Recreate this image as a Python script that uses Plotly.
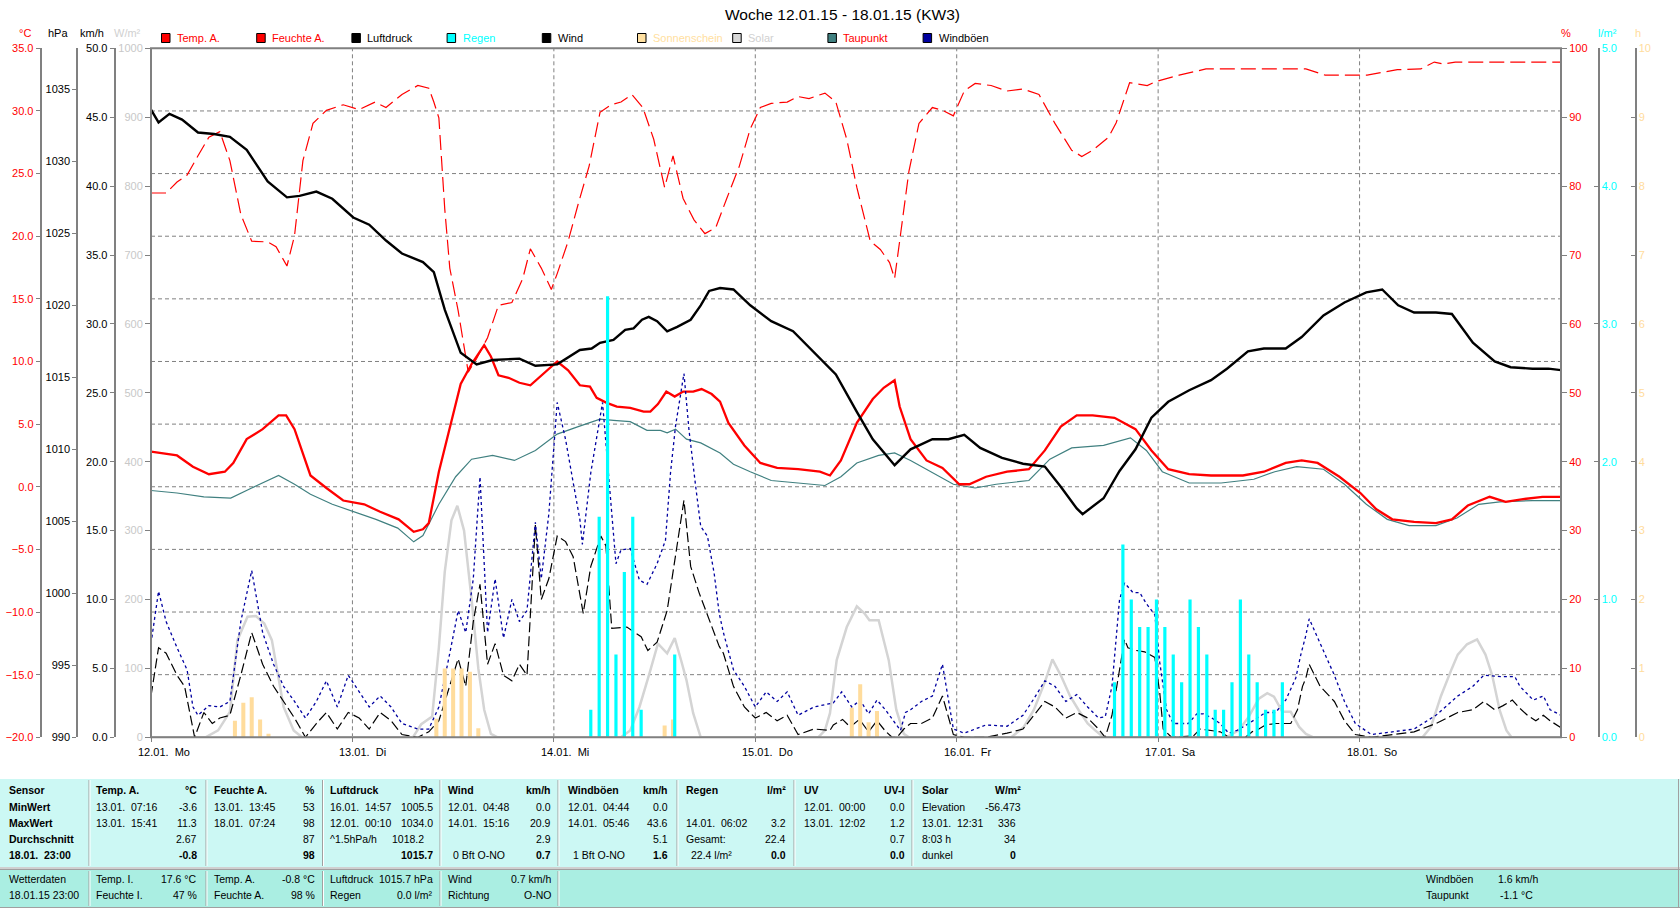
import plotly.graph_objects as go

# ---------------------------------------------------------------- data
# time axis: hours since 12.01.15 00:00 (0 .. 168)
day_ticks = [0, 24, 48, 72, 96, 120, 144]
day_labels = ["12.01.\u00a0\u00a0Mo", "13.01.\u00a0\u00a0Di", "14.01.\u00a0\u00a0Mi", "15.01.\u00a0\u00a0Do",
              "16.01.\u00a0\u00a0Fr", "17.01.\u00a0\u00a0Sa", "18.01.\u00a0\u00a0So"]

temp_t = [0.0, 3.1, 5.0, 6.9, 8.8, 9.8, 11.4, 13.3, 15.2, 16.1, 17.1, 19.0, 20.9, 22.9, 25.4, 27.3, 29.5, 31.3,
          32.4, 33.1, 34.3, 35.6, 36.9, 38.2, 39.7, 40.5, 41.4, 42.6, 43.9, 45.2, 46.5, 48.4, 49.7, 51.1, 52.3,
          53.1, 54.3, 55.5, 57.1, 58.7, 59.5, 60.4, 61.4, 62.4, 63.4, 64.6, 65.6, 66.8, 67.8, 68.8, 70.7, 72.6,
          74.6, 77.1, 79.7, 80.9, 82.2, 84.1, 86.0, 87.3, 88.6, 89.2, 90.5, 92.4, 94.3, 96.3, 97.5, 99.5, 102.0,
          104.6, 106.5, 108.4, 110.3, 112.2, 114.8, 117.3, 119.2, 121.2, 123.7, 126.3, 130.1, 132.6, 135.2,
          137.1, 139.0, 141.6, 144.1, 146.0, 147.9, 150.5, 153.1, 155.0, 156.9, 159.5, 161.4, 163.3, 165.8, 168.0]
temp_v = [2.8, 2.5, 1.6, 1.0, 1.2, 1.9, 3.8, 4.6, 5.7, 5.7, 4.6, 0.9, -0.1, -1.1, -1.4, -2.0, -2.6, -3.6,
          -3.4, -2.9, 1.2, 4.6, 8.2, 9.8, 11.3, 10.4, 8.9, 8.7, 8.3, 8.1, 8.9, 10.0, 9.3, 8.1, 8.0,
          7.1, 6.7, 6.4, 6.3, 6.0, 6.0, 6.6, 7.6, 7.2, 7.6, 7.6, 7.8, 7.4, 6.8, 5.1, 3.3, 1.9,
          1.5, 1.4, 1.2, 0.9, 2.1, 5.1, 7.0, 7.9, 8.5, 6.4, 3.8, 2.1, 1.5, 0.2, 0.2, 0.8, 1.2,
          1.4, 2.9, 4.8, 5.7, 5.7, 5.5, 4.6, 2.9, 1.4, 1.0, 0.9, 0.9, 1.2, 1.9,
          2.1, 1.9, 0.8, -0.5, -1.8, -2.6, -2.8, -2.9, -2.6, -1.5, -0.8, -1.2, -1.0, -0.8, -0.8]

dew_t = [0.0, 3.1, 6.3, 9.5, 12.0, 15.2, 17.1, 19.0, 21.6, 24.3, 26.8, 29.4, 31.3, 32.4, 34.3, 36.3, 38.2, 40.7,
         43.3, 45.8, 48.4, 50.9, 53.5, 55.1, 57.1, 59.1, 60.7, 61.5, 62.5, 63.8, 65.5, 67.8, 69.4, 71.4, 73.9,
         77.1, 80.3, 82.2, 84.1, 86.7, 88.6, 90.5, 93.0, 95.6, 98.2, 100.7, 104.6, 107.1, 109.7, 113.5, 116.7,
         118.6, 120.5, 123.7, 127.5, 131.4, 133.9, 136.5, 139.7, 142.2, 144.8, 147.3, 149.9, 153.1, 155.6,
         158.2, 160.7, 164.6, 168.0]
dew_v = [-0.3, -0.5, -0.8, -0.9, -0.1, 0.9, 0.2, -0.6, -1.4, -2.0, -2.6, -3.3, -4.4, -3.9, -1.4, 0.8, 2.2, 2.5,
         2.1, 2.9, 4.2, 4.8, 5.4, 5.3, 5.2, 4.5, 4.5, 4.3, 4.6, 3.8, 3.5, 2.7, 1.8, 1.2, 0.5,
         0.3, 0.1, 0.8, 1.9, 2.5, 2.7, 2.1, 1.2, 0.2, -0.1, 0.2, 0.5, 2.2, 3.1, 3.3, 3.9,
         2.9, 1.2, 0.3, 0.3, 0.6, 1.2, 1.6, 1.4, 0.2, -1.4, -2.6, -3.1, -3.1, -2.5,
         -1.4, -1.2, -1.1, -1.1]

pres_t = [0.0, 0.9, 2.2, 3.7, 5.6, 7.5, 9.4, 11.4, 13.9, 16.2, 17.7, 19.7, 21.6, 24.1, 26.0, 28.0, 29.9, 32.4,
          33.7, 35.0, 36.9, 38.8, 40.7, 43.9, 45.8, 48.4, 51.1, 52.5, 53.5, 55.1, 56.5, 57.5, 58.5, 59.3, 60.3,
          61.5, 62.7, 64.3, 65.5, 66.5, 67.8, 69.4, 71.4, 73.9, 76.5, 79.0, 81.6, 84.1, 86.0, 88.6, 90.5, 93.1,
          95.0, 96.9, 98.8, 101.4, 103.9, 106.5, 108.4, 110.3, 111.0, 113.5, 115.4, 117.3, 119.2, 121.2, 123.7,
          126.3, 128.2, 130.7, 132.6, 135.2, 137.1, 139.7, 142.2, 144.8, 146.7, 148.6, 150.5, 153.1, 155.0,
          157.5, 160.1, 162.0, 164.6, 166.5, 168.0]
pres_v = [1033.6, 1032.7, 1033.3, 1032.9, 1032.0, 1031.9, 1031.7, 1030.8, 1028.6, 1027.5, 1027.6, 1027.9,
          1027.4, 1026.1, 1025.6, 1024.5, 1023.6, 1023.0, 1022.3, 1019.7, 1016.7, 1015.9, 1016.2, 1016.3,
          1015.8, 1015.9, 1016.9, 1017.0, 1017.4, 1017.6, 1018.3, 1018.4, 1019.0, 1019.2, 1018.9, 1018.2,
          1018.5, 1019.0, 1020.0, 1021.0, 1021.2, 1021.1, 1020.0, 1018.9, 1018.2, 1016.7, 1015.2, 1012.6,
          1010.7, 1008.9, 1010.0, 1010.7, 1010.7, 1011.0, 1010.1, 1009.4, 1009.0, 1008.8, 1007.4, 1005.9,
          1005.5, 1006.6, 1008.5, 1010.0, 1012.2, 1013.3, 1014.1, 1014.8, 1015.6, 1016.8, 1017.0, 1017.0,
          1017.8, 1019.3, 1020.2, 1020.9, 1021.1, 1020.0, 1019.5, 1019.5, 1019.4, 1017.4, 1016.1, 1015.7,
          1015.6, 1015.6, 1015.5]

hum_t = [0.0, 1.8, 3.1, 4.3, 5.6, 6.9, 8.2, 9.4, 10.7, 12.0, 13.9, 14.9, 16.2, 17.1, 18.1, 19.3, 20.9, 22.9,
         24.8, 26.7, 28.0, 29.9, 31.8, 33.1, 33.7, 34.3, 35.0, 35.6, 36.6, 37.8, 38.8, 40.1, 41.4, 43.0, 44.3,
         45.2, 46.5, 47.7, 48.4, 49.7, 50.9, 52.2, 53.5, 54.8, 56.0, 57.3, 58.6, 59.9, 61.2, 62.2, 63.4, 64.7,
         66.0, 67.3, 68.6, 70.1, 71.4, 72.6, 73.9, 75.8, 77.1, 78.4, 80.3, 81.6, 82.9, 84.1, 85.7, 86.9, 88.0,
         88.6, 89.2, 90.3, 91.5, 93.1, 94.3, 95.6, 96.9, 98.2, 100.1, 102.0, 103.9, 105.8, 107.7, 109.7, 110.9,
         112.2, 114.1, 115.0, 116.6, 118.7, 119.8, 122.5, 125.7, 137.6, 139.9, 144.9, 148.5, 151.3, 152.9,
         154.0, 155.4, 168.0]
hum_v = [79, 79, 80.6, 81.6, 84.4, 87.1, 87.9, 83.7, 75.9, 72.0, 71.9, 71.2, 68.4, 72.8, 83.7, 89.1, 91.0, 91.8,
         91.1, 92.2, 91.4, 93.3, 94.6, 94.2, 92.2, 89.9, 76.7, 68.1, 61.9, 53.0, 55.0, 58.0, 62.7, 63.1, 66.6,
         70.9, 68.1, 65.0, 67.3, 72.0, 77.4, 82.9, 90.7, 91.8, 92.2, 93.3, 91.4, 86.8, 79.8, 84.4, 78.2, 75.1,
         73.1, 74.0, 78.2, 82.9, 88.3, 91.4, 92.0, 92.2, 93.0, 92.7, 93.5, 92.2, 86.8, 79.8, 72.0, 70.8, 68.9,
         66.6, 72.0, 82.1, 89.1, 91.4, 91.0, 90.2, 93.8, 94.9, 94.6, 93.8, 94.1, 93.3, 89.1, 85.2, 84.3,
         85.2, 87.1, 89.2, 95.0, 94.6, 95.2, 96.1, 97.0, 97.0, 96.1, 96.1, 96.9, 97.0, 98.0,
         97.7, 98.0, 98.0]

wind_t = [0.0, 0.9, 1.8, 3.1, 4.0, 4.7, 5.2, 6.3, 7.3, 8.2, 9.4, 10.7, 12.0, 13.3, 14.6, 15.8, 17.1, 18.4, 19.7,
          20.9, 22.2, 23.5, 24.8, 26.0, 27.3, 28.6, 29.9, 31.8, 33.1, 34.3, 35.6, 36.6, 37.5, 38.4, 39.2, 40.1,
          41.0, 42.0, 43.0, 43.9, 44.8, 45.8, 46.5, 47.4, 48.4, 49.4, 50.3, 51.1, 51.5, 52.4, 53.6, 54.2, 54.9,
          56.7, 58.4, 59.2, 60.3, 61.5, 62.7, 63.5, 64.3, 65.3, 66.1, 67.1, 67.7, 68.2, 69.4, 70.7, 72.0, 73.3,
          74.6, 75.8, 77.1, 79.0, 80.9, 81.3, 82.4, 83.3, 84.4, 85.5, 86.5, 87.5, 88.3, 88.9, 89.7, 90.5, 91.8,
          93.1, 94.3, 95.6, 96.9, 99.5, 102.0, 103.9, 105.2, 106.5, 107.7, 109.0, 110.3, 111.6, 112.9, 113.7,
          114.5, 115.3, 116.0, 116.4, 117.4, 118.4, 119.6, 120.2, 120.6, 121.6, 124.2, 125.0, 126.4, 127.4,
          128.2, 128.8, 130.4, 131.2, 132.0, 132.8, 134.0, 135.8, 136.6, 137.2, 137.6, 138.0, 139.3, 141.0,
          142.2, 143.5, 145.4, 148.0, 150.5, 153.1, 155.7, 157.5, 158.8, 160.1, 161.1, 162.2, 163.1, 164.0,
          165.0, 165.9, 166.7, 168.0]
wind_v = [3.0, 6.5, 6.1, 4.5, 3.7, 1.4, 0.0, 1.8, 1.0, 1.4, 1.6, 4.5, 7.6, 5.3, 3.7, 2.6, 1.4, 0.0, 1.0,
          1.8, 0.6, 1.8, 1.4, 0.6, 1.8, 1.2, 0.2, 0.0, 0.4, 1.2, 3.7, 5.7, 3.7, 8.4, 11.1, 5.3,
          6.8, 4.5, 4.1, 5.3, 4.5, 15.4, 10.0, 11.5, 14.6, 14.2, 13.1, 10.2, 9.0, 12.4, 14.6, 13.9, 7.9,
          8.0, 7.3, 6.3, 6.9, 9.2, 14.1, 17.2, 12.4, 10.5, 9.2, 7.5, 6.6, 6.1, 3.7, 2.2, 1.4, 1.8,
          1.2, 1.6, 0.2, 0.6, 0.5, 0.9, 1.3, 0.75, 1.3, 0.4, 1.2, 0.45, 0.0, 0.0, 0.6, 1.0, 1.0,
          1.4, 3.0, 0.2, 0.0, 0.0, 0.3, 0.6, 1.6, 2.6, 2.2, 1.4, 1.8, 1.4, 0.6, 0.0,
          1.6, 4.6, 7.1, 6.5, 6.3, 6.2, 5.8, 3.2, 0.6, 0.0, 0.1, 0.6, 0.5, 0.4,
          0.1, 0.0, 0.0, 0.4, 0.6, 0.9, 1.0, 1.0, 2.0, 3.7, 4.3, 5.3, 3.7, 2.6,
          1.2, 0.2, 0.0, 0.2, 0.4, 1.0, 1.8, 2.0, 2.6, 2.0, 2.3, 2.7, 2.1, 1.6,
          1.2, 1.6, 1.2, 0.7]

gust_t = [0.0, 0.9, 1.8, 3.1, 4.3, 5.0, 5.6, 6.9, 8.2, 9.4, 10.7, 12.0, 13.3, 14.6, 15.8, 17.1, 18.4, 19.7,
          20.9, 22.2, 23.5, 24.8, 26.0, 27.3, 28.6, 29.9, 31.8, 33.1, 34.3, 35.6, 36.6, 37.5, 38.4, 39.2, 40.1,
          41.0, 42.0, 43.0, 43.9, 44.8, 45.8, 46.5, 47.4, 48.4, 49.4, 50.3, 51.1, 51.4, 52.4, 53.8, 55.4, 56.0,
          57.1, 58.2, 59.1, 60.3, 61.3, 61.9, 62.5, 63.5, 64.1, 64.9, 65.5, 66.3, 67.1, 67.7, 68.2, 69.4, 70.7,
          72.0, 73.3, 74.6, 75.8, 77.1, 79.0, 81.3, 82.3, 83.5, 84.5, 85.5, 86.5, 87.5, 88.5, 89.3, 89.9, 90.5,
          91.8, 93.1, 94.3, 95.6, 96.9, 99.5, 102.0, 103.9, 105.2, 106.5, 107.7, 109.0, 110.3, 111.6, 112.9,
          113.7, 114.5, 115.4, 116.0, 117.0, 117.8, 118.6, 119.6, 120.2, 121.0, 121.8, 123.6, 124.6, 125.4,
          126.4, 127.4, 128.4, 129.4, 130.8, 132.8, 134.0, 135.2, 136.4, 137.0, 137.6, 138.0, 139.3, 141.0,
          142.2, 143.5, 145.4, 148.0, 150.5, 153.1, 155.7, 157.5, 158.8, 160.9, 162.5, 163.1, 164.7, 165.9,
          166.7, 168.0]
gust_v = [6.8, 10.6, 8.4, 6.5, 4.9, 2.2, 1.6, 2.3, 2.2, 2.6, 8.4, 12.1, 7.6, 5.3, 3.7, 2.6, 1.4, 2.6,
          4.1, 2.2, 4.5, 3.3, 2.2, 3.0, 2.2, 1.0, 0.6, 0.6, 2.2, 6.1, 9.2, 7.6, 11.5, 18.9, 7.6,
          11.5, 7.2, 10.0, 8.4, 9.2, 15.6, 11.5, 16.2, 24.3, 21.6, 18.5, 15.8, 14.0, 19.2, 24.3, 12.6, 13.6,
          13.7, 11.4, 11.1, 12.6, 14.3, 19.2, 22.6, 26.4, 22.3, 18.2, 15.3, 14.6, 11.9, 9.0, 7.6, 4.9, 3.7,
          2.2, 3.3, 2.6, 3.3, 1.6, 2.2, 2.5, 3.3, 2.2, 2.7, 1.7, 2.7, 2.0, 1.2, 0.5, 1.8, 2.0,
          2.6, 3.0, 5.3, 0.6, 0.3, 0.9, 0.8, 1.6, 2.8, 4.1, 3.7, 2.6, 3.1, 2.2, 1.4,
          1.5, 3.7, 10.0, 11.2, 10.5, 10.5, 9.7, 8.9, 5.4, 2.0, 1.0, 1.0, 1.7, 1.7,
          1.4, 1.0, 0.3, 0.5, 1.0, 1.8, 1.8, 2.7, 4.3, 6.0, 7.4, 8.6, 6.8, 4.5,
          2.6, 1.0, 0.2, 0.4, 0.6, 1.6, 3.0, 3.7, 4.5, 4.4, 4.4, 3.7, 2.7, 3.0,
          2.0, 1.6]

solar_t = [0.0, 6.5, 8.0, 9.4, 10.3, 11.5, 12.5, 13.5, 14.4, 15.8, 17.0, 18.0,
           31.2, 32.2, 33.5, 34.3, 35.0, 35.8, 36.5, 37.3, 38.2, 39.0, 39.7, 40.5, 41.3,
           56.0, 57.1, 58.2, 59.4, 60.4, 61.5, 62.4, 63.2, 63.8, 64.6, 65.5,
           79.5, 80.3, 80.9, 81.7, 82.9, 84.1, 85.0, 85.6, 86.7, 87.9, 88.8, 89.7, 90.3,
           102.5, 104.0, 105.2, 106.5, 107.4, 108.4, 109.5, 110.5, 111.6, 112.5, 113.5,
           128.1, 129.6, 130.8, 132.0, 133.0, 133.8, 134.8, 135.8, 136.8, 137.6, 138.5,
           151.5, 152.5, 153.7, 155.0, 155.7, 156.8, 158.0, 159.0, 159.8, 160.7, 161.5, 162.1, 168.0]
solar_v = [0, 0, 10, 37, 141, 175, 176, 165, 141, 44, 10, 0,
           0, 19, 30, 130, 240, 315, 336, 300, 200, 100, 40, 5, 0,
           0, 10, 44, 93, 136, 122, 144, 110, 83, 35, 0,
           0, 10, 35, 112, 160, 190, 180, 170, 170, 112, 40, 5, 0,
           0, 15, 40, 80, 113, 90, 60, 40, 20, 10, 0,
           0, 10, 30, 56, 64, 59, 37, 37, 15, 5, 0,
           0, 15, 60, 100, 120, 135, 142, 120, 90, 39, 10, 0, 0]

rain_t = [52.4, 53.4, 54.4, 55.4, 56.4, 57.4, 58.4, 62.4,
          114.8, 115.8, 116.8, 117.8, 118.8, 119.8, 120.8, 121.8, 122.8, 123.8, 124.8,
          125.8, 126.8, 127.8, 128.8, 129.8, 130.8, 131.8, 132.8, 133.8, 134.8]
rain_v = [0.2, 1.6, 3.2, 0.6, 1.2, 1.6, 0.2, 0.6,
          0.4, 1.4, 1.0, 0.8, 0.8, 1.0, 0.8, 0.6, 0.4, 1.0, 0.8,
          0.6, 0.2, 0.2, 0.4, 1.0, 0.6, 0.4, 0.2, 0.2, 0.4]

sun_t = [10, 11, 12, 13, 14, 34, 35, 36, 37, 38, 39, 61.2, 62.2, 83.5, 84.5, 85.5, 86.5]
sun_v = [0.24, 0.5, 0.58, 0.26, 0.05, 0.27, 1.0, 1.0, 1.0, 0.95, 0.13, 0.17, 0.26, 0.43, 0.77, 0.22, 0.38]

# axis tick values
c_ticks = [-20, -15, -10, -5, 0, 5, 10, 15, 20, 25, 30, 35]
hpa_ticks = [990, 995, 1000, 1005, 1010, 1015, 1020, 1025, 1030, 1035]
kmh_ticks = [0, 5, 10, 15, 20, 25, 30, 35, 40, 45, 50]
wm2_ticks = [0, 100, 200, 300, 400, 500, 600, 700, 800, 900, 1000]
pct_ticks = [0, 10, 20, 30, 40, 50, 60, 70, 80, 90, 100]
lm2_ticks = [0, 1, 2, 3, 4, 5]
h_ticks = [0, 1, 2, 3, 4, 5, 6, 7, 8, 9, 10]

legend_names = ["Temp. A.", "Feuchte A.", "Luftdruck", "Regen", "Wind", "Sonnenschein", "Solar", "Taupunkt", "Windböen"]
legend_box = ["#FF0000", "#FF0000", "#000000", "#00FFFF", "#000000", "#FFE0A0", "#D8D8D8", "#408080", "#0000A0"]
legend_txt = ["#FF0000", "#FF0000", "#000000", "#00FFFF", "#000000", "#FFE0A0", "#D0D0D0", "#FF0000", "#000000"]

# statistics table
tab_head_l = ["Temp. A.", "Feuchte A.", "Luftdruck", "Wind", "Windböen", "Regen", "UV", "Solar"]
tab_head_r = ["°C", "%", "hPa", "km/h", "km/h", "l/m²", "UV-I", "W/m²"]
row_names = ["MinWert", "MaxWert", "Durchschnitt", "18.01.\u00a0\u00a023:00"]
min_l = ["13.01.\u00a0\u00a007:16", "13.01.\u00a0\u00a013:45", "16.01.\u00a0\u00a014:57", "12.01.\u00a0\u00a004:48",
         "12.01.\u00a0\u00a004:44", "", "12.01.\u00a0\u00a000:00", "Elevation"]
min_r = ["-3.6", "53", "1005.5", "0.0", "0.0", "", "0.0", "-56.473"]
max_l = ["13.01.\u00a0\u00a015:41", "18.01.\u00a0\u00a007:24", "12.01.\u00a0\u00a000:10", "14.01.\u00a0\u00a015:16",
         "14.01.\u00a0\u00a005:46", "14.01.\u00a0\u00a006:02", "13.01.\u00a0\u00a012:02", "13.01.\u00a0\u00a012:31"]
max_r = ["11.3", "98", "1034.0", "20.9", "43.6", "3.2", "1.2", "336"]
avg_l = ["", "", "^1.5hPa/h", "", "", "Gesamt:", "", "8:03 h"]
avg_r = ["2.67", "87", "1018.2", "2.9", "5.1", "22.4", "0.7", "34"]
cur_l = ["", "", "", "0 Bft O-NO", "1 Bft O-NO", "22.4 l/m²", "", "dunkel"]
cur_r = ["-0.8", "98", "1015.7", "0.7", "1.6", "0.0", "0.0", "0"]

bot_l1 = ["Temp. I.", "Temp. A.", "Luftdruck", "Wind"]
bot_r1 = ["17.6 °C", "-0.8 °C", "1015.7 hPa", "0.7 km/h"]
bot_l2 = ["Feuchte I.", "Feuchte A.", "Regen", "Richtung"]
bot_r2 = ["47 %", "98 %", "0.0 l/m²", "O-NO"]

# ---------------------------------------------------------------- layout geometry (pixels)
W, H = 1680, 909
PL, PR, PT, PB = 151, 1561, 48.3, 737.3
FONT = "Liberation Sans, Arial, sans-serif"
TF = 10.5  # table font size


def fx(x):
    return x / W


def fy(y):
    return 1 - y / H


fig = go.Figure()

# traces (axis order defines drawing order)
fig.add_trace(go.Scatter(x=solar_t, y=solar_v, yaxis="y", mode="lines",
                         line=dict(color="#D4D4D4", width=2.5), name="Solar"))
fig.add_trace(go.Scatter(x=dew_t, y=dew_v, yaxis="y2", mode="lines",
                         line=dict(color="#408080", width=1.2), name="Taupunkt"))
fig.add_trace(go.Scatter(x=temp_t, y=temp_v, yaxis="y2", mode="lines",
                         line=dict(color="#FF0000", width=2.3), name="Temp. A."))
fig.add_trace(go.Scatter(x=hum_t, y=hum_v, yaxis="y3", mode="lines",
                         line=dict(color="#FF0000", width=1.2, dash="15px,6px"), name="Feuchte A."))
fig.add_trace(go.Scatter(x=pres_t, y=pres_v, yaxis="y4", mode="lines",
                         line=dict(color="#000000", width=2.4), name="Luftdruck"))
fig.add_trace(go.Scatter(x=wind_t, y=wind_v, yaxis="y5", mode="lines",
                         line=dict(color="#000000", width=1.2, dash="10px,4px"), name="Wind"))
fig.add_trace(go.Scatter(x=gust_t, y=gust_v, yaxis="y5", mode="lines",
                         line=dict(color="#0000A0", width=1.3, dash="3px,3px"), name="Windböen"))
fig.add_trace(go.Bar(x=sun_t, y=sun_v, yaxis="y6", width=0.48,
                     marker=dict(color="#FFDC9C", line=dict(width=0)), name="Sonnenschein"))
fig.add_trace(go.Bar(x=rain_t, y=rain_v, yaxis="y7", width=0.38,
                     marker=dict(color="#00FFFF", line=dict(width=0)), name="Regen"))

dom_y = [fy(PB), fy(PT)]


def yax(rng, tv, fmt, color, **kw):
    d = dict(domain=dom_y, range=rng, autorange=False, tickmode="array", tickvals=tv,
             tickformat=fmt, tickfont=dict(family=FONT, size=11, color=color),
             showgrid=False, zeroline=False, fixedrange=True, automargin=False,
             ticks="outside", ticklen=4, tickcolor="#808080", tickwidth=1)
    d.update(kw)
    return d


line_kw = dict(showline=True, linecolor="#808080", linewidth=2)

fig.update_layout(
    template="none",
    width=W, height=H, margin=dict(l=0, r=0, t=0, b=0, pad=0, autoexpand=False),
    paper_bgcolor="white", plot_bgcolor="white", showlegend=False, barmode="overlay",
    font=dict(family=FONT, size=11, color="black"),
    xaxis=dict(domain=[fx(PL), fx(PR)], range=[0, 168], autorange=False, showgrid=False, zeroline=False,
               showticklabels=False, ticks="outside", tickmode="array", tickvals=day_ticks, ticklen=4,
               tickcolor="#808080", showline=False, fixedrange=True, automargin=False),
    yaxis=yax([0, 1000], wm2_ticks, "d", "#C8C8C8", anchor="x", side="left", ticklen=5),
    yaxis2=yax([-20, 35], c_ticks, ".1f", "#FF0000", overlaying="y", anchor="free",
               position=fx(40.7), side="left", **line_kw),
    yaxis3=yax([0, 100], pct_ticks, "d", "#FF0000", overlaying="y", anchor="x", side="right", ticklen=5),
    yaxis4=yax([990, 1037.85], hpa_ticks, "d", "#000000", overlaying="y", anchor="free",
               position=fx(77.3), side="left", **line_kw),
    yaxis5=yax([0, 50], kmh_ticks, ".1f", "#000000", overlaying="y", anchor="free",
               position=fx(114.7), side="left", **line_kw),
    yaxis6=yax([0, 10], h_ticks, "d", "#FFDC9C", overlaying="y", anchor="free",
               position=fx(1635.5), side="right", ticks="inside", **line_kw),
    yaxis7=yax([0, 5], lm2_ticks, ".1f", "#00FFFF", overlaying="y", anchor="free",
               position=fx(1598.5), side="right", ticks="inside", **line_kw),
)

shapes = []
grid = dict(color="#808080", width=1, dash="4px,3px")
for c in c_ticks[1:-1]:
    shapes.append(dict(type="line", xref="paper", yref="y2", x0=fx(PL), x1=fx(PR), y0=c, y1=c,
                       line=grid, layer="below"))
for d in day_ticks[1:]:
    shapes.append(dict(type="line", xref="x", yref="paper", x0=d, x1=d, y0=fy(PB), y1=fy(PT),
                       line=grid, layer="below"))
# plot frame
shapes.append(dict(type="rect", xref="paper", yref="paper", x0=fx(PL), x1=fx(PR), y0=fy(PB), y1=fy(PT),
                   line=dict(color="#808080", width=2), layer="above"))

annotations = []


def txt(x, y, s, anchor="left", bold=False, color="#000000", size=11):
    annotations.append(dict(x=fx(x), y=fy(y), xref="paper", yref="paper", showarrow=False,
                            text=("<b>%s</b>" % s) if bold else s, xanchor=anchor, yanchor="middle",
                            font=dict(family=FONT, size=size, color=color), borderpad=0))


# title
txt(842, 15, "Woche 12.01.15 - 18.01.15 (KW3)", anchor="center", size=15.5)

# axis unit labels
txt(24.5, 32.5, "°C", anchor="center", color="#FF0000")
txt(57.5, 33, "hPa", anchor="center")
txt(91.5, 33, "km/h", anchor="center")
txt(127.5, 33, "W/m²", anchor="center", color="#D0D0D0")
txt(1566, 33, "%", anchor="center", color="#FF0000")
txt(1607, 33, "l/m²", anchor="center", color="#00FFFF")
txt(1638, 33, "h", anchor="center", color="#FFDC9C")

# legend
for i, name in enumerate(legend_names):
    x0 = 161.5 + i * 95.2
    shapes.append(dict(type="rect", xref="paper", yref="paper", x0=fx(x0), x1=fx(x0 + 8.5),
                       y0=fy(42.5), y1=fy(33.5), fillcolor=legend_box[i],
                       line=dict(color="#000000", width=1), layer="above"))
    txt(x0 + 14.5, 38, name, color=legend_txt[i])

# day labels
for d, lab in zip(day_ticks, day_labels):
    px_ = PL + d * (PR - PL) / 168.0
    txt(px_ - 14, 752, lab)

# ---------------- statistics table
TOP_BG, BOT_BG, SEP = "#CCF8F4", "#AAEEE2", "#A0A0A0"
shapes.append(dict(type="rect", xref="paper", yref="paper", x0=0, x1=1, y0=fy(867), y1=fy(779),
                   fillcolor=TOP_BG, line=dict(width=0), layer="below"))
shapes.append(dict(type="rect", xref="paper", yref="paper", x0=0, x1=1, y0=fy(907), y1=fy(870),
                   fillcolor=BOT_BG, line=dict(width=0), layer="below"))
for yy in (868, 869.5, 907.5):
    shapes.append(dict(type="line", xref="paper", yref="paper", x0=0, x1=1, y0=fy(yy), y1=fy(yy),
                       line=dict(color=SEP, width=1), layer="above"))
shapes.append(dict(type="line", xref="paper", yref="paper", x0=fx(1678.5), x1=fx(1678.5),
                   y0=fy(907), y1=fy(779), line=dict(color=SEP, width=1), layer="above"))
sep_top = [89, 206, 322.5, 440, 558, 677, 794, 912]
for i, sx in enumerate(sep_top):
    shapes.append(dict(type="line", xref="paper", yref="paper", x0=fx(sx), x1=fx(sx), y0=fy(866), y1=fy(780),
                       line=dict(color=SEP, width=1), layer="above"))
    shapes.append(dict(type="line", xref="paper", yref="paper", x0=fx(sx + 1), x1=fx(sx + 1), y0=fy(866),
                       y1=fy(780), line=dict(color="#FFFFFF", width=1), layer="above"))
    if i < 5:
        shapes.append(dict(type="line", xref="paper", yref="paper", x0=fx(sx), x1=fx(sx), y0=fy(906),
                           y1=fy(871), line=dict(color=SEP, width=1), layer="above"))
        shapes.append(dict(type="line", xref="paper", yref="paper", x0=fx(sx + 1), x1=fx(sx + 1),
                           y0=fy(906), y1=fy(871), line=dict(color="#FFFFFF", width=1), layer="above"))

col_l = [94.5, 212.5, 329, 446.5, 566.5, 684.5, 802.5, 920.5]
col_r = [198, 316, 434, 552, 668.5, 786.5, 906, 1022]
rows_y = [790, 806.5, 822.5, 839, 855]

txt(8, rows_y[0], "Sensor", bold=True, size=TF)
for k, rn in enumerate(row_names):
    txt(8, rows_y[k + 1], rn, bold=True, size=TF)
for i in range(8):
    txt(col_l[i], rows_y[0], tab_head_l[i], bold=True, size=TF)
    txt(col_r[i], rows_y[0], tab_head_r[i], anchor="right", bold=True, size=TF)
    rr = col_r[i] - 5 if i == 7 else col_r[i]
    if min_l[i]:
        txt(col_l[i], rows_y[1], min_l[i], size=TF)
    if min_r[i]:
        txt(col_r[i], rows_y[1], min_r[i], anchor="right", size=TF)
    txt(col_l[i], rows_y[2], max_l[i], size=TF)
    txt(rr, rows_y[2], max_r[i], anchor="right", size=TF)
    if avg_l[i]:
        txt(col_l[i], rows_y[3], avg_l[i], size=TF)
    txt(col_r[i] - 9 if i == 2 else rr, rows_y[3], avg_r[i], anchor="right", size=TF)
    if cur_l[i]:
        txt(col_l[i] + (0 if i == 7 else 5), rows_y[4], cur_l[i], size=TF)
    txt(rr, rows_y[4], cur_r[i], anchor="right", bold=True, size=TF)

bot_y = [879, 895]
txt(8, bot_y[0], "Wetterdaten", size=TF)
txt(8, bot_y[1], "18.01.15 23:00", size=TF)
for i in range(4):
    txt(col_l[i], bot_y[0], bot_l1[i], size=TF)
    txt(col_r[i], bot_y[0], bot_r1[i], anchor="right", size=TF)
    txt(col_l[i], bot_y[1], bot_l2[i], size=TF)
    txt(col_r[i], bot_y[1], bot_r2[i], anchor="right", size=TF)
txt(1425, bot_y[0], "Windböen", size=TF)
txt(1497, bot_y[0], "1.6 km/h", size=TF)
txt(1425, bot_y[1], "Taupunkt", size=TF)
txt(1499, bot_y[1], "-1.1 °C", size=TF)

fig.update_layout(shapes=shapes, annotations=annotations)
fig.write_html("out.html", post_script="document.body.style.margin='0';")
